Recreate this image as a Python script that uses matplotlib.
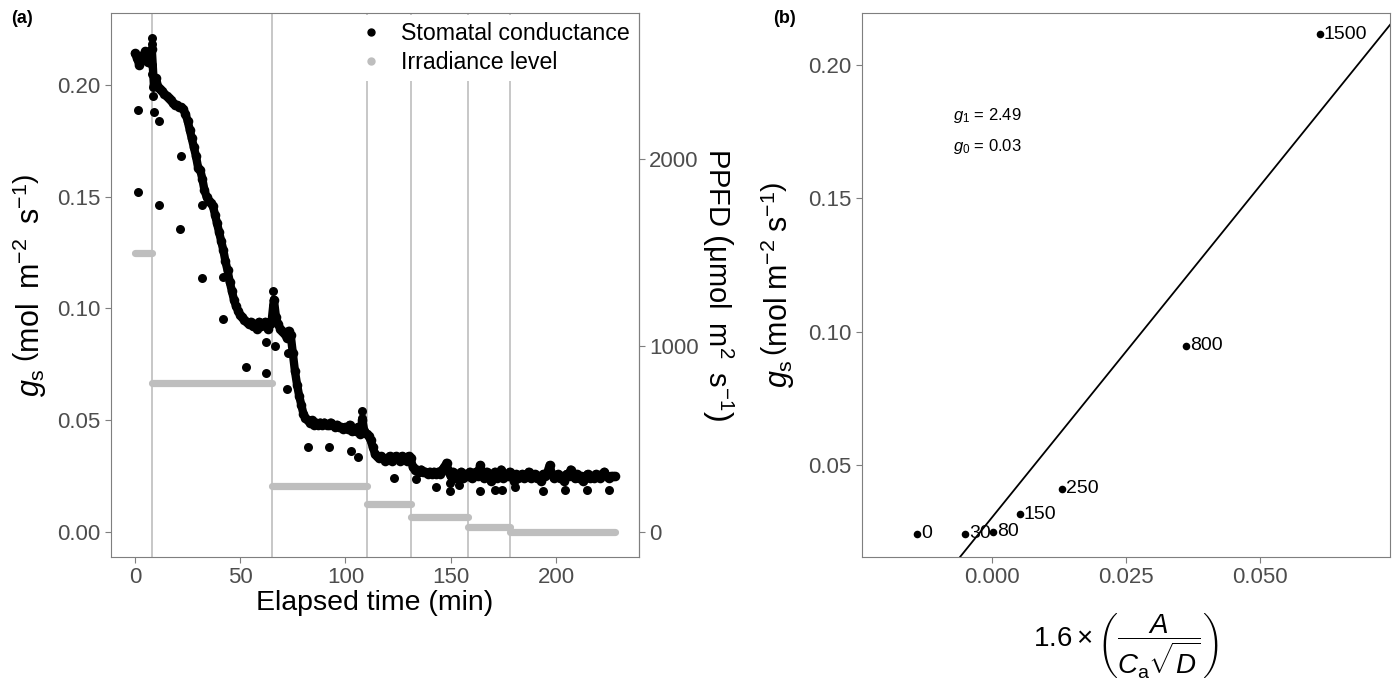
import numpy as np
import matplotlib.pyplot as plt
from matplotlib.lines import Line2D

plt.rcParams['font.family'] = ['Liberation Sans', 'DejaVu Sans']
plt.rcParams['mathtext.fontset'] = 'custom'
plt.rcParams['mathtext.rm'] = 'Liberation Sans'
plt.rcParams['mathtext.it'] = 'Liberation Sans:italic'
plt.rcParams['mathtext.bf'] = 'Liberation Sans:bold'

# ---- panel (a): stomatal conductance time course (1 reading per minute) ----
gs_main = [
    0.214, 0.212, 0.209, 0.213, 0.211, 0.215, 0.210, 0.213, 0.216, 0.200,
    0.203, 0.199, 0.198, 0.197, 0.196, 0.195, 0.194, 0.193, 0.192, 0.191,
    0.191, 0.190, 0.190, 0.189, 0.187, 0.184, 0.180, 0.176, 0.172, 0.168,
    0.163, 0.162, 0.158, 0.153, 0.150, 0.148, 0.147, 0.146, 0.142, 0.138,
    0.134, 0.130, 0.126, 0.121, 0.117, 0.112, 0.108, 0.104, 0.101, 0.099,
    0.097, 0.096, 0.095, 0.094, 0.093, 0.094, 0.092, 0.093, 0.091, 0.094,
    0.092, 0.093, 0.094, 0.091, 0.093, 0.095, 0.104, 0.096, 0.093, 0.091,
    0.090, 0.089, 0.087, 0.090, 0.088, 0.080, 0.072, 0.066, 0.061, 0.057,
    0.053, 0.051, 0.050, 0.049, 0.050, 0.048, 0.049, 0.048, 0.049, 0.048,
    0.049, 0.048, 0.048, 0.049, 0.048, 0.047, 0.048, 0.047, 0.047, 0.046,
    0.047, 0.046, 0.048, 0.045, 0.046, 0.045, 0.047, 0.044, 0.050, 0.045,
    0.044, 0.043, 0.041, 0.038, 0.035, 0.034, 0.033, 0.034, 0.033, 0.032,
    0.033, 0.034, 0.032, 0.033, 0.034, 0.033, 0.032, 0.034, 0.033, 0.032,
    0.034, 0.033, 0.029, 0.028, 0.028, 0.027, 0.028, 0.027, 0.027, 0.026,
    0.027, 0.026, 0.027, 0.026, 0.027, 0.026, 0.028, 0.029, 0.031, 0.027,
    0.025, 0.027, 0.024, 0.026, 0.025, 0.027, 0.024, 0.026, 0.025, 0.027,
    0.024, 0.026, 0.027, 0.025, 0.030, 0.026, 0.024, 0.027, 0.025, 0.023,
    0.026, 0.027, 0.024, 0.025, 0.028, 0.024, 0.026, 0.025, 0.027, 0.025,
    0.023, 0.026, 0.024, 0.025, 0.026, 0.024, 0.025, 0.027, 0.024, 0.025,
    0.026, 0.024, 0.025, 0.023, 0.026, 0.025, 0.027, 0.030, 0.026, 0.024,
    0.025, 0.026, 0.024, 0.025, 0.023, 0.026, 0.025, 0.028, 0.025, 0.024,
    0.026, 0.024, 0.025, 0.023, 0.025, 0.026, 0.024, 0.025, 0.024, 0.026,
    0.025, 0.024, 0.026, 0.027, 0.025, 0.024, 0.025, 0.025, 0.025,
]
t_main = np.arange(len(gs_main))

# scattered readings
t_extra = [1.3, 1.3, 8.0, 8.0, 8.0, 8.2, 8.4, 8.4, 9.1, 11.5, 11.5, 21.8, 21.3,
           31.7, 31.7, 41.9, 41.9, 52.6, 62.3, 62.3, 65.5, 65.5, 66.6, 72.2, 72.8,
           82.4, 92.3, 102.6, 106.0, 107.8, 108.0, 122.9, 133.3, 143.2, 149.6,
           149.6, 153.9, 163.9, 171.0, 174.2, 180.5, 194.0, 204.4, 214.7, 225.0]
gs_extra = [0.1886, 0.152, 0.221, 0.218, 0.209, 0.205, 0.199, 0.195, 0.188, 0.1837,
            0.1464, 0.168, 0.1357, 0.1464, 0.1138, 0.1142, 0.0955, 0.0738, 0.0852,
            0.0712, 0.108, 0.101, 0.0831, 0.0641, 0.080, 0.0379, 0.0379, 0.0363,
            0.0338, 0.054, 0.051, 0.024, 0.0236, 0.0204, 0.0219, 0.0182, 0.0212,
            0.0182, 0.019, 0.019, 0.0204, 0.0182, 0.019, 0.0187, 0.0188]

# irradiance steps (PPFD, umol m-2 s-1)
ppfd_levels = [1500, 800, 250, 150, 80, 30, 0]
step_start = [0, 8, 65, 110, 131, 158, 178]
step_end = [8, 65, 110, 131, 158, 178, 228]
ppfd_scale = 12000  # PPFD plotted on the gs axis as PPFD / 12000

# ---- panel (b): Medlyn fit ----
x_medlyn = [-0.0139, -0.0050, 0.0002, 0.0052, 0.0130, 0.0362, 0.0611]
gs_medlyn = [0.0243, 0.0243, 0.0249, 0.0315, 0.0410, 0.0948, 0.2115]
par_labels = ['0', '30', '80', '150', '250', '800', '1500']
g1 = 2.49
g0 = 0.0303

fig = plt.figure(figsize=(13.92, 6.82), dpi=100)
ax1 = fig.add_axes([0.0797, 0.1833, 0.3793, 0.7977])
ax2 = fig.add_axes([0.6193, 0.1833, 0.3793, 0.7977])

spine_col = '#7F7F7F'
tick_col = '#4D4D4D'
grey = '#BEBEBE'

for x in step_start[1:]:
    ax1.axvline(x, color=grey, lw=1.2, zorder=1)
for lev, a, b in zip(ppfd_levels, step_start, step_end):
    ax1.plot([a, b], [lev / ppfd_scale] * 2, color=grey, lw=5.2,
             solid_capstyle='round', zorder=2)
ax1.plot(t_main, gs_main, color='black', lw=6, solid_capstyle='round',
         solid_joinstyle='round', zorder=3)
ax1.scatter(t_main, gs_main, s=48, color='black', lw=0, zorder=3)
ax1.scatter(t_extra, gs_extra, s=42, color='black', lw=0, zorder=3)

ax1.set_xlim(-11.4, 239.4)
ax1.set_ylim(-0.0111, 0.2321)
ax1.set_xticks([0, 50, 100, 150, 200])
ax1.set_yticks([0, 0.05, 0.10, 0.15, 0.20])
ax1.set_yticklabels(['0.00', '0.05', '0.10', '0.15', '0.20'])
ax1.set_xlabel('Elapsed time (min)', fontsize=20.5, labelpad=1)
ax1.set_ylabel(r'$g_\mathrm{s}\;\left(\mathrm{mol\;\;m^{-2}\;\;s^{-1}}\right)$',
               fontsize=22, labelpad=6)

sec = ax1.secondary_yaxis('right', functions=(lambda y: y * ppfd_scale,
                                              lambda p: p / ppfd_scale))
sec.set_yticks([0, 1000, 2000])
sec.tick_params(colors=spine_col, labelcolor=tick_col, labelsize=16, length=4)
sec.spines['right'].set_color(spine_col)
sec.set_ylabel(r'PPFD $\left(\mathrm{\mu mol\;\;m^{2}\;\;s^{-1}}\right)$',
               fontsize=21, rotation=270, labelpad=26)

handles = [Line2D([], [], marker='o', ls='', color='black', markersize=5),
           Line2D([], [], marker='o', ls='', color=grey, markersize=5)]
leg = ax1.legend(handles, ['Stomatal conductance', 'Irradiance level'],
                 loc='upper right', fontsize=16.7, frameon=True, framealpha=1,
                 edgecolor='white', borderaxespad=0.1, handletextpad=0.5,
                 handlelength=1.6, labelspacing=0.25, borderpad=0.3)
leg.get_frame().set_linewidth(0)
leg.set_zorder(5)

# panel (b)
xl = np.array([-0.0242, 0.0742])
ax2.plot(xl, g0 + g1 * xl, color='black', lw=1.3, zorder=2)
ax2.scatter(x_medlyn, gs_medlyn, s=30, color='black', lw=0, zorder=3)
for x, y, lab in zip(x_medlyn, gs_medlyn, par_labels):
    ax2.annotate(lab, (x, y), xytext=(3, 0), textcoords='offset points',
                 ha='left', va='center', fontsize=14)
ax2.text(-0.0072, 0.1811, r'$g_1$ = 2.49', fontsize=12, va='center')
ax2.text(-0.0072, 0.1695, r'$g_0$ = 0.03', fontsize=12, va='center')
ax2.set_xlim(-0.0242, 0.0742)
ax2.set_ylim(0.0155, 0.2195)
ax2.set_xticks([0, 0.025, 0.05])
ax2.set_xticklabels(['0.000', '0.025', '0.050'])
ax2.set_yticks([0.05, 0.10, 0.15, 0.20])
ax2.set_yticklabels(['0.05', '0.10', '0.15', '0.20'])
ax2.set_xlabel(r'$1.6\times\left(\dfrac{A}{C_\mathrm{a}\sqrt{D}}\right)$',
               fontsize=20, labelpad=16)
ax2.set_ylabel(r'$g_\mathrm{s}\,\left(\mathrm{mol\;m^{-2}\;s^{-1}}\right)$',
               fontsize=22, labelpad=8)

for ax in (ax1, ax2):
    for sp in ax.spines.values():
        sp.set_color(spine_col)
    ax.tick_params(colors=spine_col, labelcolor=tick_col, labelsize=16, length=4)

fig.text(0.008, 0.973, '(a)', fontsize=13, fontweight='bold', va='center')
fig.text(0.5555, 0.973, '(b)', fontsize=13, fontweight='bold', va='center')

fig.savefig('out.png', dpi=100)
